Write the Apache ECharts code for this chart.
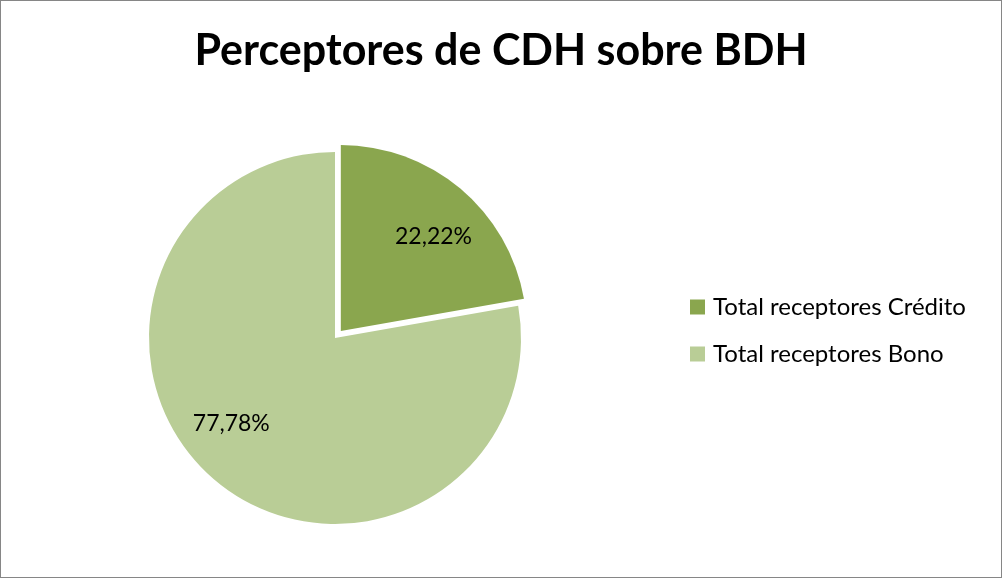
<!DOCTYPE html>
<html>
<head>
<meta charset="utf-8">
<style type="text/css">
	html,body{margin:0;padding:0;background:#fff}
	#main{width:1002px;height:578px;box-sizing:border-box;border:1px solid #868686}
</style>
</head>
<body>
	<div id="main"></div>
<script src="https://cdn.jsdelivr.net/npm/echarts@6/dist/echarts.min.js"></script>
<script type="text/javascript">
// datos del grafico
var categorias = ['Total receptores Crédito', 'Total receptores Bono'];
var valores = [22.22, 77.78];
var colores = ['#8aa64e', '#b9cd96'];
// desplazamiento de las etiquetas como en excel
var ajusteEtiqueta = [[31, -21], [-42, 12]];

var chart = echarts.init(document.getElementById('main'));

var datos = categorias.map(function(nombre, i){
	return {
		name: nombre,
		value: valores[i],
		selected: i === 0,
		itemStyle: {color: colores[i]}
	};
});

var option = {
	animation: false,
	// titulo
	title: {
		text: 'Perceptores de CDH sobre BDH',
		left: 'center',
		top: 24,
		textStyle: {
			fontFamily: 'Lato',
			fontWeight: 'bold',
			fontSize: 43,
			color: '#000'
		}
	},
	// leyenda
	legend: {
		orient: 'vertical',
		left: 684,
		top: 289,
		icon: 'rect',
		itemWidth: 15,
		itemHeight: 15,
		itemGap: 23,
		textStyle: {
			fontFamily: 'Lato',
			fontSize: 24,
			color: '#000',
			padding: [0, 0, 0, 3]
		},
		data: categorias
	},
	series: [{
		type: 'pie',
		center: [334, 337],
		radius: 186,
		startAngle: 90,
		clockwise: true,
		selectedMode: 'single',
		selectedOffset: 9,
		select: {itemStyle: {borderWidth: 0}},
		emphasis: {scale: false},
		label: {
			show: true,
			position: 'inside',
			fontFamily: 'Lato',
			fontSize: 23,
			color: '#000',
			formatter: function(p){
				return p.value.toFixed(2).replace('.', ',') + '%';
			}
		},
		labelLine: {show: false},
		labelLayout: function(p){
			var a = ajusteEtiqueta[p.dataIndex];
			return {dx: a[0], dy: a[1]};
		},
		data: datos
	}]
};

chart.setOption(option);
</script>
</body>
</html>
